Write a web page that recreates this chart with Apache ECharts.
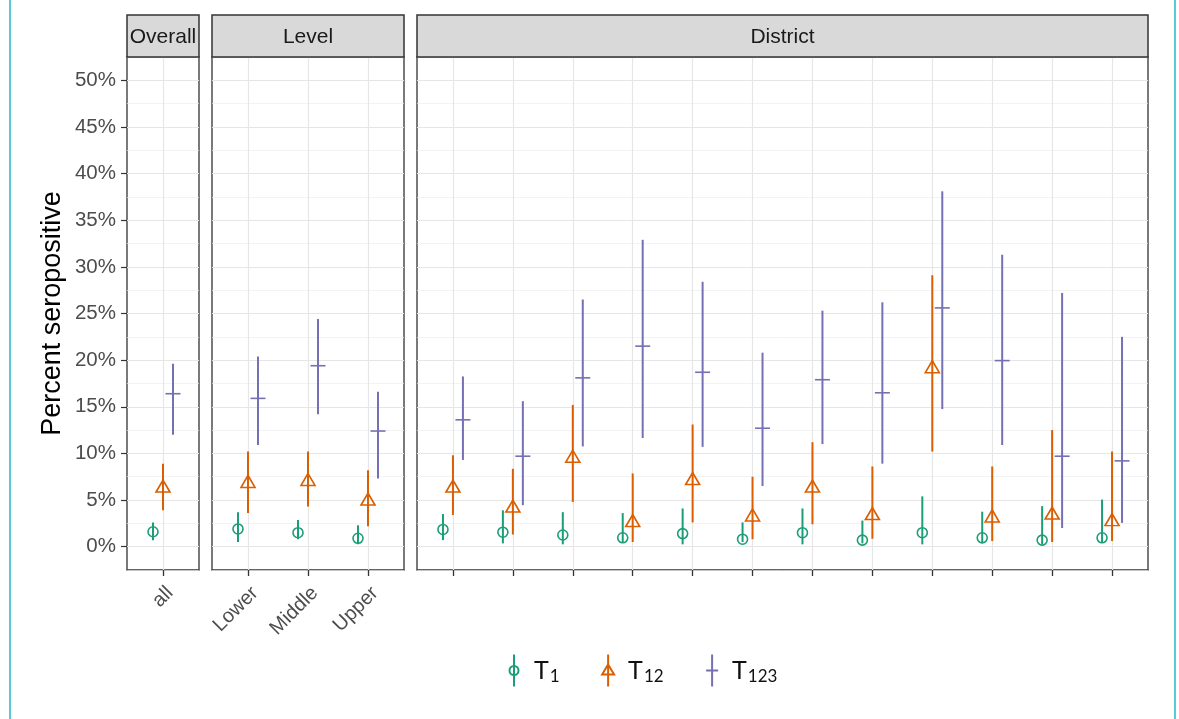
<!DOCTYPE html>
<html>
<head>
<meta charset="utf-8">
<script src="https://cdn.jsdelivr.net/npm/echarts@6/dist/echarts.min.js"></script>
<style>html,body{margin:0;padding:0;background:#fff;}#c{width:1179px;height:719px;}</style>
</head>
<body>
<div id="c"></div>
<script>
// ---- data (percent) ----
const overallCats = ['all'];
const levelCats = ['Lower', 'Middle', 'Upper'];
const districtCats = ['', '', '', '', '', '', '', '', '', '', '', ''];
const panelTitles = ['Overall', 'Level', 'District'];
const yTicks = [0, 5, 10, 15, 20, 25, 30, 35, 40, 45, 50];
const seriesNames = ['T1', 'T12', 'T123'];

const overallT1 = [1.6];   const overallT1Lo = [0.7];   const overallT1Hi = [2.6];
const overallT12 = [6.5];  const overallT12Lo = [3.9];  const overallT12Hi = [8.9];
const overallT123 = [16.4]; const overallT123Lo = [12.0]; const overallT123Hi = [19.6];

const levelT1 = [1.9, 1.5, 0.9];     const levelT1Lo = [0.5, 0.8, 0.25];   const levelT1Hi = [3.7, 2.85, 2.3];
const levelT12 = [7.0, 7.2, 5.1];    const levelT12Lo = [3.6, 4.3, 2.2];   const levelT12Hi = [10.2, 10.2, 8.2];
const levelT123 = [15.9, 19.4, 12.4]; const levelT123Lo = [10.9, 14.2, 7.3]; const levelT123Hi = [20.4, 24.4, 16.6];

const districtT1 = [1.85, 1.55, 1.25, 0.95, 1.4, 0.8, 1.5, 0.7, 1.5, 0.95, 0.7, 0.95];
const districtT1Lo = [0.7, 0.35, 0.25, 0.4, 0.25, 0.5, 0.25, 0.35, 0.25, 0.35, 0.25, 0.4];
const districtT1Hi = [3.5, 3.9, 3.7, 3.6, 4.1, 2.6, 4.1, 2.8, 5.4, 3.75, 4.35, 5.05];
const districtT12 = [6.5, 4.35, 9.7, 2.8, 7.3, 3.4, 6.5, 3.55, 19.3, 3.3, 3.6, 2.9];
const districtT12Lo = [3.4, 1.3, 4.8, 0.5, 2.6, 0.8, 2.4, 0.85, 10.2, 0.6, 0.5, 0.6];
const districtT12Hi = [9.8, 8.35, 15.2, 7.85, 13.1, 7.5, 11.2, 8.6, 29.1, 8.6, 12.5, 10.2];
const districtT123 = [13.6, 9.7, 18.1, 21.5, 18.7, 12.7, 17.9, 16.5, 25.6, 19.95, 9.7, 9.2];
const districtT123Lo = [9.3, 4.45, 10.75, 11.65, 10.7, 6.5, 11.0, 8.9, 14.75, 10.9, 2.0, 2.55];
const districtT123Hi = [18.25, 15.6, 26.5, 32.9, 28.4, 20.8, 25.3, 26.2, 38.1, 31.3, 27.2, 22.5];

// ---- styling / layout ----
const colors = ['#1b9e77', '#d95f02', '#7570b3'];
const dodge = [-1 / 6, 0, 1 / 6];
const grids = [
  { left: 127, top: 57, width: 72, height: 513 },
  { left: 212, top: 57, width: 192, height: 513 },
  { left: 417, top: 57, width: 731, height: 513 }
];
const panels = [
  { cats: overallCats, vals: [[overallT1, overallT1Lo, overallT1Hi], [overallT12, overallT12Lo, overallT12Hi], [overallT123, overallT123Lo, overallT123Hi]] },
  { cats: levelCats, vals: [[levelT1, levelT1Lo, levelT1Hi], [levelT12, levelT12Lo, levelT12Hi], [levelT123, levelT123Lo, levelT123Hi]] },
  { cats: districtCats, vals: [[districtT1, districtT1Lo, districtT1Hi], [districtT12, districtT12Lo, districtT12Hi], [districtT123, districtT123Lo, districtT123Hi]] }
];

const font = 'Liberation Sans, Arial, sans-serif';
const gridLineColor = '#e6e6e6';
const xAxes = [], yAxes = [], series = [], graphics = [];

panels.forEach((p, gi) => {
  const n = p.cats.length;
  const idx = p.cats.map((c, i) => i + 1);
  xAxes.push({
    type: 'value', gridIndex: gi, min: 0.4, max: n + 0.6, position: 'bottom',
    axisLine: { show: false, onZero: false },
    axisTick: { show: true, customValues: idx, length: 6, lineStyle: { color: '#333', width: 1.3 } },
    axisLabel: { show: true, customValues: idx, rotate: 45, margin: 13, verticalAlign: 'top', align: 'right',
      fontSize: 20, color: '#4d4d4d', fontFamily: font,
      formatter: v => p.cats[Math.round(v) - 1] },
    splitLine: { show: true, lineStyle: { color: gridLineColor, width: 1.2 } }
  });
  // major y axis
  yAxes.push({
    type: 'value', gridIndex: gi, min: -2.5, max: 52.5,
    name: gi === 0 ? 'Percent seropositive' : '',
    nameLocation: 'middle', nameGap: 61, nameTextStyle: { fontSize: 27, color: '#000', fontFamily: font },
    axisLine: { show: false, onZero: false },
    axisTick: { show: gi === 0, customValues: yTicks, length: 6, lineStyle: { color: '#333', width: 1.2 } },
    axisLabel: { show: gi === 0, customValues: yTicks, margin: 11, fontSize: 20.5, color: '#4d4d4d', fontFamily: font,
      formatter: v => v + '%' },
    splitLine: { show: true, lineStyle: { color: gridLineColor, width: 1.2 } },
    z: 1
  });
  // minor y grid
  yAxes.push({
    type: 'value', gridIndex: gi, min: -2.5, max: 52.5, interval: 2.5,
    axisLine: { show: false, onZero: false }, axisTick: { show: false }, axisLabel: { show: false },
    splitLine: { show: true, lineStyle: { color: '#eeeeee', width: 0.7 } },
    z: 0
  });
  p.vals.forEach((v, k) => {
    const [est, lo, hi] = v;
    const color = colors[k];
    series.push({
      name: seriesNames[k], type: 'custom', xAxisIndex: gi, yAxisIndex: gi * 2,
      encode: { x: 0, y: [1, 2] },
      data: est.map((e, i) => [i + 1 + dodge[k], lo[i], hi[i]]),
      renderItem: (params, api) => {
        const a = api.coord([api.value(0), api.value(1)]);
        const b = api.coord([api.value(0), api.value(2)]);
        return { type: 'line', shape: { x1: a[0], y1: a[1], x2: b[0], y2: b[1] }, style: { stroke: color, lineWidth: 2 } };
      },
      z: 3
    });
    const sym = k === 0 ? { symbol: 'circle', symbolSize: 10, itemStyle: { color: 'rgba(0,0,0,0)', borderColor: color, borderWidth: 1.6, opacity: 1 } }
      : k === 1 ? { symbol: 'triangle', symbolSize: [14, 12], itemStyle: { color: 'rgba(0,0,0,0)', borderColor: color, borderWidth: 1.6, opacity: 1 } }
      : { symbol: 'rect', symbolSize: [15, 1.6], itemStyle: { color: color, opacity: 1 } };
    series.push(Object.assign({
      name: seriesNames[k], type: 'scatter', xAxisIndex: gi, yAxisIndex: gi * 2,
      data: est.map((e, i) => [i + 1 + dodge[k], e]),
      z: 4, silent: true
    }, sym));
  });
  const g = grids[gi];
  graphics.push({
    type: 'rect', shape: { x: g.left, y: 15, width: g.width, height: 42 },
    style: { fill: '#d9d9d9', stroke: '#333', lineWidth: 1.5 }, z: 10
  });
  graphics.push({
    type: 'text', x: g.left + g.width / 2, y: 37,
    style: { text: panelTitles[gi], fill: '#1a1a1a', font: '21px ' + font, textAlign: 'center', textVerticalAlign: 'middle' }, z: 11
  });
});
graphics.push({ type: 'line', shape: { x1: 10, y1: 0, x2: 10, y2: 719 }, style: { stroke: '#5cc8d8', lineWidth: 2 } });
graphics.push({ type: 'line', shape: { x1: 1175, y1: 0, x2: 1175, y2: 719 }, style: { stroke: '#5cc8d8', lineWidth: 2 } });

const legendIcons = [
  'path://M6 0L6 32M10.5 16A4.5 4.5 0 1 1 1.5 16A4.5 4.5 0 1 1 10.5 16',
  'path://M6 0L6 32M6 10L12 20L0 20Z',
  'path://M6 0L6 32M0 16L12 16'
];

const option = {
  backgroundColor: '#ffffff',
  animation: false,
  grid: grids.map(g => Object.assign({ show: true, borderColor: '#333', borderWidth: 1.3, backgroundColor: 'transparent', containLabel: false }, g)),
  xAxis: xAxes,
  yAxis: yAxes,
  series: series,
  graphic: graphics,
  legend: {
    left: 502, top: 647, orient: 'horizontal', itemWidth: 20, itemHeight: 32, itemGap: 40,
    data: seriesNames.map((nm, k) => ({ name: nm, icon: legendIcons[k],
      itemStyle: { color: 'none', borderColor: colors[k], borderWidth: 2 } })),
    formatter: nm => '{t|T}{s|' + nm.slice(1) + '}',
    textStyle: {
      padding: [0, 0, 0, 5],
      rich: {
        t: { fontSize: 25, fontFamily: 'Lato', color: '#111' },
        s: { fontSize: 17, fontFamily: 'Lato', color: '#111', padding: [12, 0, 0, 1] }
      }
    }
  }
};
const chart = echarts.init(document.getElementById('c'), null, { renderer: 'canvas' });
chart.setOption(option);
</script>
</body>
</html>
